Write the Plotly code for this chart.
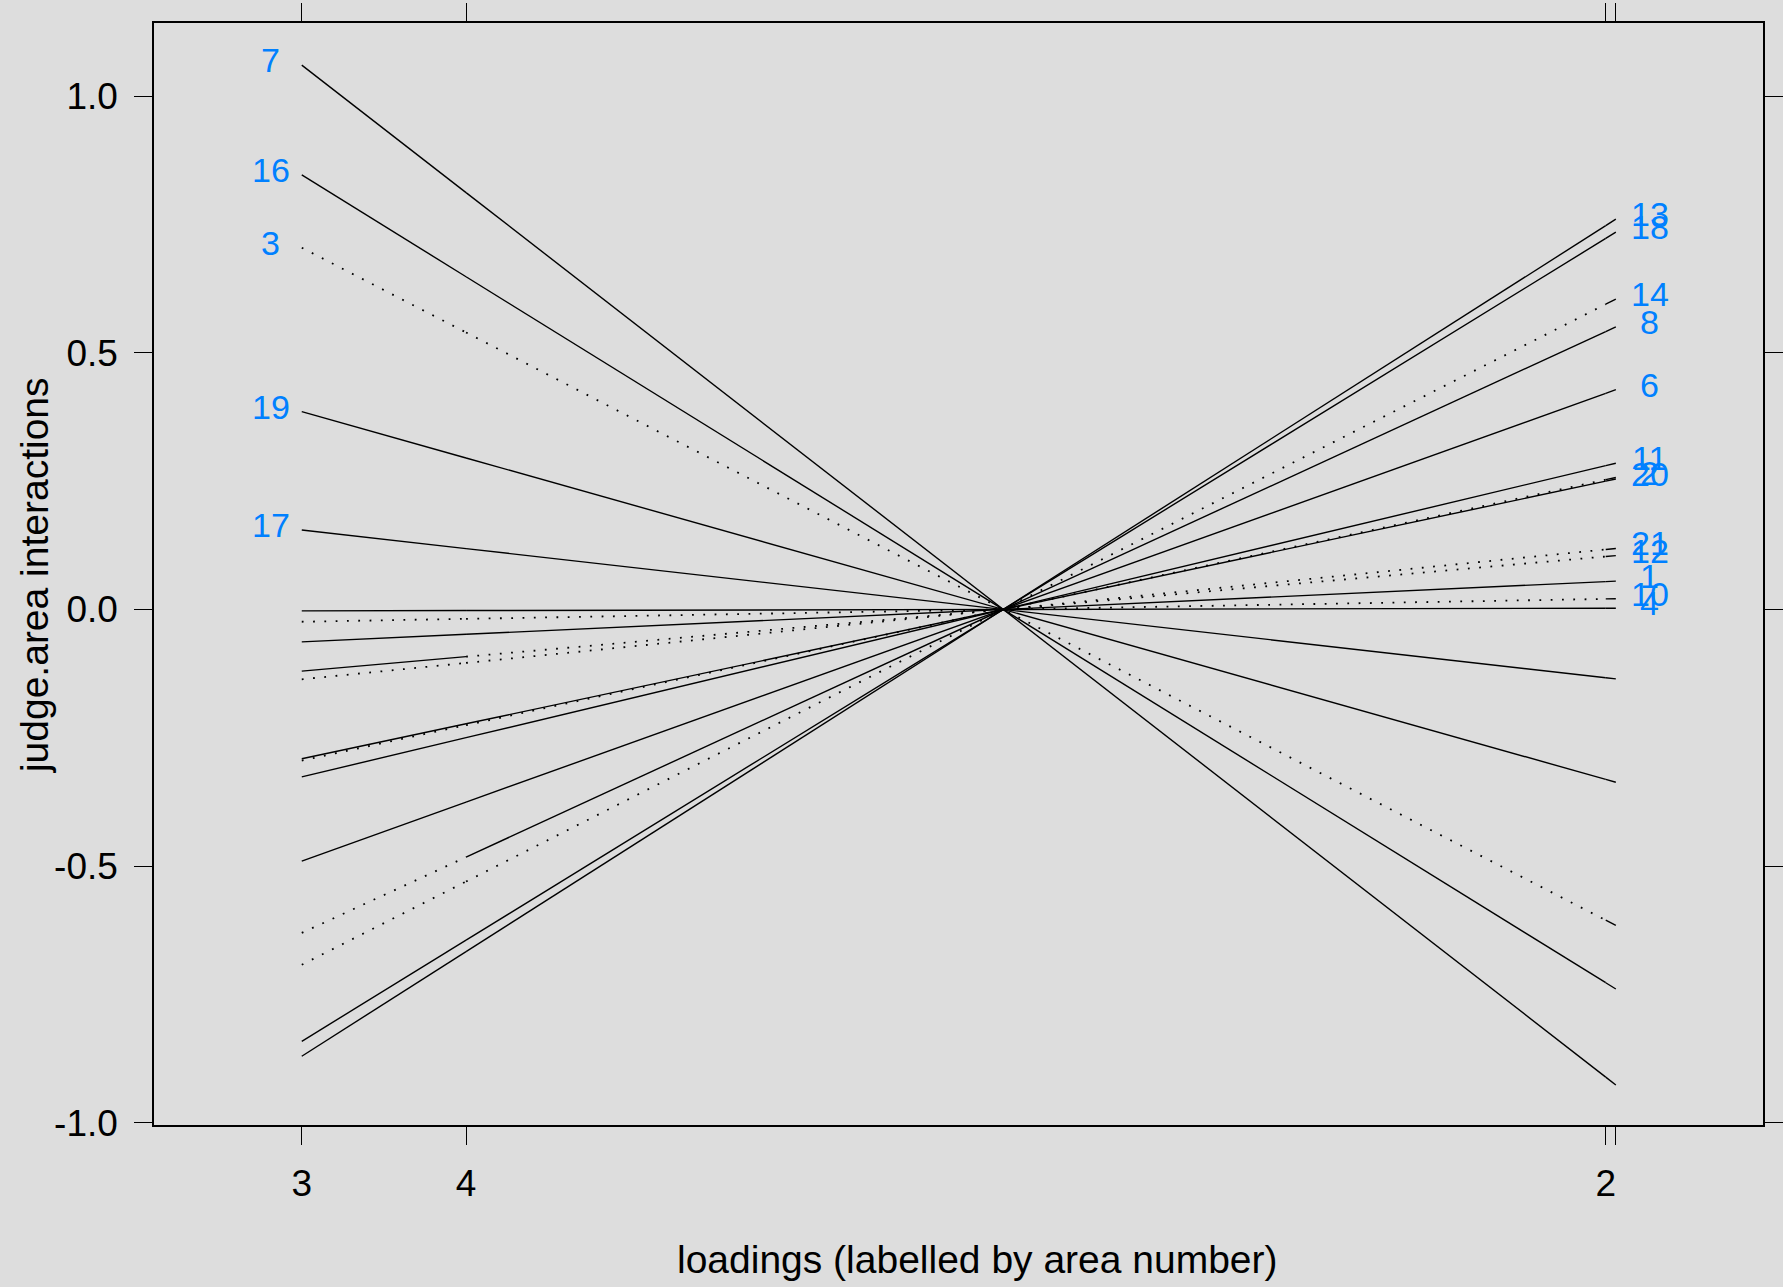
import plotly.graph_objects as go

# ---- data ----
area_names = ["3", "4", "2", "1"]
area_loadings = [-0.5691, -0.4358, 0.4889, 0.4971]
area_tick_text = ["3", "4", "2", ""]

judge_ids = ["7", "16", "3", "19", "17", "4", "10", "1", "12", "21",
             "20", "2", "11", "6", "8", "14", "18", "13"]
judge_scores = [-1.863, -1.487, -1.238, -0.677, -0.272, 0.005, 0.042, 0.111,
                0.211, 0.239, 0.511, 0.517, 0.573, 0.861, 1.107, 1.216,
                1.478, 1.529]
# line style of each segment between successive loadings (S = solid, D = dotted)
judge_segment_styles = ["SSS", "SSS", "DDS", "SSS", "SSS", "SSS", "DDS", "SSS",
                        "SDS", "DDS", "SSS", "DDS", "SSS", "SSS", "DSS", "DDS",
                        "SSS", "SSS"]

y_ticks = [-1.0, -0.5, 0.0, 0.5, 1.0]
y_tick_text = ["-1.0", "-0.5", "0.0", "0.5", "1.0"]

BG = "#dddddd"
BLUE = "#0080ff"
FONT = "Liberation Sans, Arial, sans-serif"

fig = go.Figure()

order = sorted(range(len(area_loadings)), key=lambda i: area_loadings[i])
xs_sorted = [area_loadings[i] for i in order]

solid_x, solid_y, dot_x, dot_y = [], [], [], []
for score, styles in zip(judge_scores, judge_segment_styles):
    ys = [score * x for x in xs_sorted]
    for k in range(len(xs_sorted) - 1):
        if styles[k] == "S":
            solid_x += [xs_sorted[k], xs_sorted[k + 1], None]
            solid_y += [ys[k], ys[k + 1], None]
        else:
            dot_x += [xs_sorted[k], xs_sorted[k + 1], None]
            dot_y += [ys[k], ys[k + 1], None]

fig.add_trace(go.Scatter(x=solid_x, y=solid_y, mode="lines",
                         line=dict(color="black", width=1.4),
                         hoverinfo="skip", showlegend=False))
fig.add_trace(go.Scatter(x=dot_x, y=dot_y, mode="lines",
                         line=dict(color="black", width=1.8, dash="1.8px,9.5px"),
                         hoverinfo="skip", showlegend=False))

# labels at the end where the interaction is positive
xmin, xmax = xs_sorted[0], xs_sorted[-1]
for jid, score in zip(judge_ids, judge_scores):
    yl, yr = score * xmin, score * xmax
    if yl > yr:
        fig.add_annotation(x=xmin, y=yl, text=jid, showarrow=False,
                           xanchor="center", yanchor="middle", xshift=-31, yshift=5,
                           font=dict(color=BLUE, size=34, family=FONT))
    else:
        fig.add_annotation(x=xmax, y=yr, text=jid, showarrow=False,
                           xanchor="center", yanchor="middle", xshift=34, yshift=5,
                           font=dict(color=BLUE, size=34, family=FONT))

# axis titles
fig.add_annotation(xref="paper", yref="paper", x=0.512, y=-0.1225,
                   text="loadings (labelled by area number)", showarrow=False,
                   xanchor="center", yanchor="middle",
                   font=dict(color="black", size=39, family=FONT))
fig.add_annotation(xref="paper", yref="paper", x=-0.0746, y=0.499,
                   text="judge.area interactions", showarrow=False, textangle=-90,
                   xanchor="center", yanchor="middle",
                   font=dict(color="black", size=39, family=FONT))

fig.update_layout(
    width=1783, height=1287,
    margin=dict(l=154, r=20, t=23, b=162, autoexpand=False),
    paper_bgcolor=BG, plot_bgcolor=BG,
    font=dict(family=FONT, color="black"),
    showlegend=False,
)
fig.update_xaxes(
    range=[-0.689, 0.6165], tickvals=area_loadings, ticktext=area_tick_text,
    automargin=False,
    showgrid=False, zeroline=False, showline=True, linecolor="black", linewidth=1.5,
    mirror="allticks", ticks="outside", ticklen=18, tickwidth=1.3, tickcolor="black",
    tickfont=dict(size=37, family=FONT, color="black"), ticklabelstandoff=7,
)
fig.update_yaxes(
    range=[-1.0041, 1.1422], tickvals=y_ticks, ticktext=y_tick_text,
    automargin=False,
    showgrid=False, zeroline=False, showline=True, linecolor="black", linewidth=1.5,
    mirror="allticks", ticks="outside", ticklen=18, tickwidth=1.3, tickcolor="black",
    tickfont=dict(size=37, family=FONT, color="black"), ticklabelstandoff=9,
)

fig.write_html("out.html", config={"displayModeBar": False},
               post_script="document.body.style.margin='0px';"
                           "document.body.style.overflow='hidden';"
                           "document.body.style.background='" + BG + "';")
